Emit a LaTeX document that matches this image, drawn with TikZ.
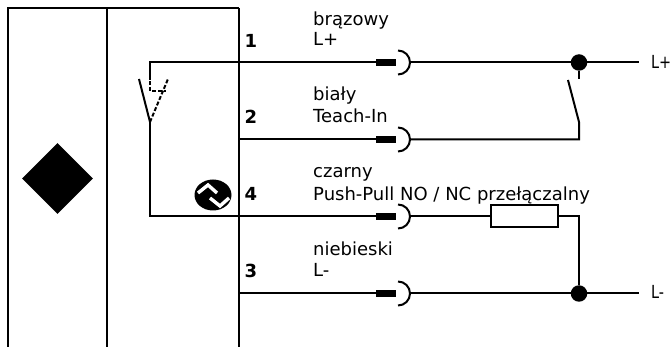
\documentclass[tikz,border=0pt]{standalone}
\usepackage{fontspec}
\setmainfont{DejaVu Sans}
\usetikzlibrary{positioning,shapes.geometric}
\tikzset{
	wire/.style={line width=2pt},
	wall/.style={line width=2.4pt},
	pin/.style={inner sep=0pt,font=\fontsize{18}{18}\selectfont\bfseries},
	lbl/.style={inner sep=0pt,anchor=base west,font=\fontsize{18}{18}\selectfont},
	dot/.style={circle,fill=black,inner sep=0pt,minimum size=16.5pt},
	plug/.style={fill=black,inner sep=0pt,minimum width=20pt,minimum height=7pt},
	load/.style={draw,line width=2pt,fill=white,inner sep=0pt,minimum width=67pt,minimum height=22pt}
}
\newcommand{\socket}[1]{\draw[wire] ([xshift=-11pt,yshift=12pt]#1) arc[start angle=90,end angle=-90,radius=12pt];}
\begin{document}
\begin{tikzpicture}[x=1pt,y=-1pt]
	\useasboundingbox (0,0) rectangle (672,347);
	% housing
	\draw[wall] (8,347) -- (8,8) -- (239,8);
	\draw[wire] (239,8) -- (239,347);
	\draw[wire] (107,8) -- (107,347);
	\node[diamond,fill=black,inner sep=0pt,minimum size=71pt] (sensor) at (57.5,178.5) {};
	% plugs
	\node[plug] (P1) at (386,62.5) {};
	\node[plug] (P2) at (386,139.5) {};
	\node[plug] (P4) at (386,216.5) {};
	\node[plug] (P3) at (386,293.5) {};
	\socket{409,62.5}
	\socket{409,139.5}
	\socket{409,216.5}
	\socket{409,293.5}
	% junctions and ends
	\node[dot] (J1) at (579,62.5) {};
	\node[dot] (J3) at (579,293.5) {};
	\coordinate (E1) at (639,62.5);
	\coordinate (E3) at (639,293.5);
	\node[load] (R) at (524.5,216.5) {};
	% wires
	\draw[wire] (150,80) -- (150,62.5) -- (P1);
	\draw[wire] (409,62.5) -- (J1) -- (E1);
	\draw[wire] (J1) -- (579,79);
	\draw[wire] (239,139.5) -- (P2);
	\draw[wire] (409,139.5) -- (579,139.5) -- (579,122) -- (568,80);
	\draw[wire] (150,122) -- (150,216.5) -- (P4);
	\draw[wire] (409,216.5) -- (R);
	\draw[wire] (R) -- (579,216.5) -- (J3);
	\draw[wire] (239,293.5) -- (P3);
	\draw[wire] (409,293.5) -- (J3) -- (E3);
	% switch
	\draw[wire] (139,79) -- (150,122);
	\draw[wire,dash pattern=on 4pt off 2pt] (150,122) -- (168,79);
	\draw[wire,dash pattern=on 4pt off 2pt] (150,81) -- (150,91) -- (166,91);
	% symbol
	\node[ellipse,fill=black,inner sep=0pt,minimum width=37pt,minimum height=31pt] (sym) at (213,195) {};
	\draw[white,line width=3.4pt] (198,193) -- (208,185) -- (217,193);
	\draw[white,line width=3.4pt] (210,198) -- (220,206) -- (229,198);
	% pin numbers
	\node[pin] (n1) at (251,40.5) {1};
	\node[pin] (n2) at (251,117) {2};
	\node[pin] (n4) at (251,194) {4};
	\node[pin] (n3) at (251,271) {3};
	% labels
	\node[lbl] (a1) at (313,26) {brązowy};
	\node[lbl] (b1) at (313,46) {L+};
	\node[lbl] (a2) at (313,101) {biały};
	\node[lbl] (b2) at (313,123) {Teach-In};
	\node[lbl] (a4) at (313,178) {czarny};
	\node[lbl] (b4) at (313,200.5) {Push-Pull NO / NC przełączalny};
	\node[lbl] (a3) at (313,255.5) {niebieski};
	\node[lbl] (b3) at (313,277) {L-};
	\node[lbl,xscale=.8] (e1) at (651,69) {L+};
	\node[lbl,xscale=.8] (e3) at (651,299) {L-};
\end{tikzpicture}
\end{document}
